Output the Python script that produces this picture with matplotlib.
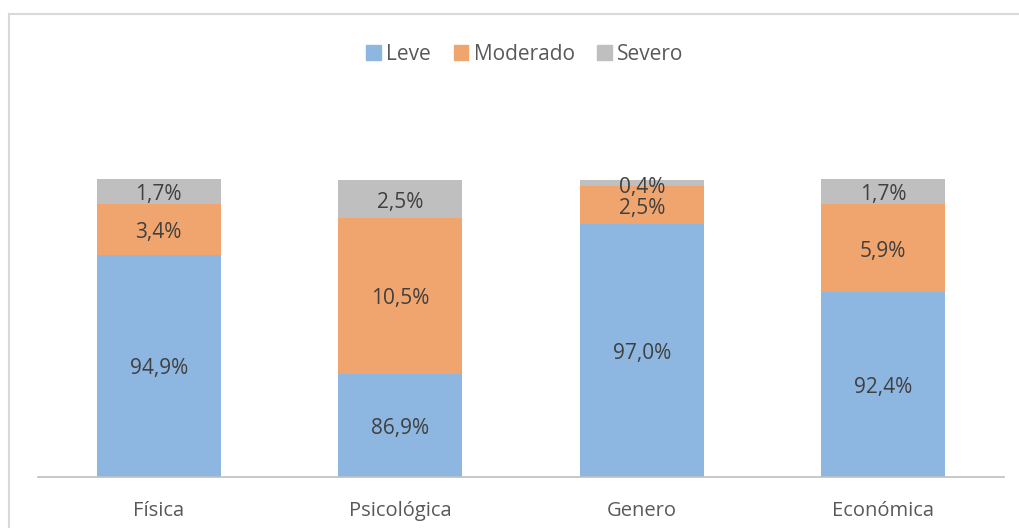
import matplotlib
matplotlib.use("Agg")
import matplotlib.pyplot as plt
from matplotlib.lines import Line2D
from matplotlib.patches import Patch

plt.rcParams['font.family'] = ['Open Sans', 'DejaVu Sans']

categories = ['Física', 'Psicológica', 'Genero', 'Económica']
leve = [94.9, 86.9, 97.0, 92.4]
moderado = [3.4, 10.5, 2.5, 5.9]
severo = [1.7, 2.5, 0.4, 1.7]

series = [('Leve', leve, '#8DB7E0'),
          ('Moderado', moderado, '#F0A56E'),
          ('Severo', severo, '#BFBFBF')]

TEXT = '#595959'
LABEL = '#404040'
W, H = 1020, 528

fig = plt.figure(figsize=(W / 100, H / 100), dpi=100)
# chart frame: only top and left edges show in the screenshot
frame_kw = dict(transform=fig.transFigure, color='#D9D9D9', linewidth=1.5)
fig.add_artist(Line2D([9 / W, 1.0], [1 - 14 / H] * 2, **frame_kw))
fig.add_artist(Line2D([9 / W] * 2, [0.0, 1 - 14 / H], **frame_kw))

ax = fig.add_axes([38 / W, (H - 477) / H, (1004 - 38) / W, (477 - 179) / H])
x = range(len(categories))
bottom = [0.0] * len(categories)
for name, vals, color in series:
    ax.bar(x, vals, bottom=bottom, width=0.515, color=color, label=name)
    for i, v in enumerate(vals):
        lo = max(bottom[i], 80)
        mid = (lo + bottom[i] + v) / 2 - 0.2
        if name == 'Severo' and v < 1:
            mid = bottom[i] + v - 0.45
        elif name == 'Moderado' and v < 3 and severo[i] < 1:
            mid = bottom[i] + v / 2 - 0.2
        ax.text(i, mid, f"{v:.1f}%".replace('.', ','), ha='center', va='center',
                fontsize=15, color=LABEL)
        bottom[i] += v

ax.set_ylim(80, 100)
ax.set_xlim(-0.5, 3.5)
ax.set_yticks([])
ax.set_xticks(list(x))
ax.set_xticklabels(categories, fontsize=14.5, color=TEXT)
ax.tick_params(axis='x', length=0, pad=17)
for s in ['top', 'right', 'left']:
    ax.spines[s].set_visible(False)
ax.spines['bottom'].set_color('#BFBFBF')
ax.spines['bottom'].set_linewidth(1.2)

handles = [Patch(color=c, label=n) for n, _, c in series]
fig.legend(handles=handles, loc='center', bbox_to_anchor=(525 / W, 1 - 54 / H), ncol=3,
           frameon=False, fontsize=15, handlelength=0.7, handleheight=0.7,
           handletextpad=0.25, columnspacing=1.1, labelcolor=TEXT)

fig.savefig('out.png', dpi=100)
